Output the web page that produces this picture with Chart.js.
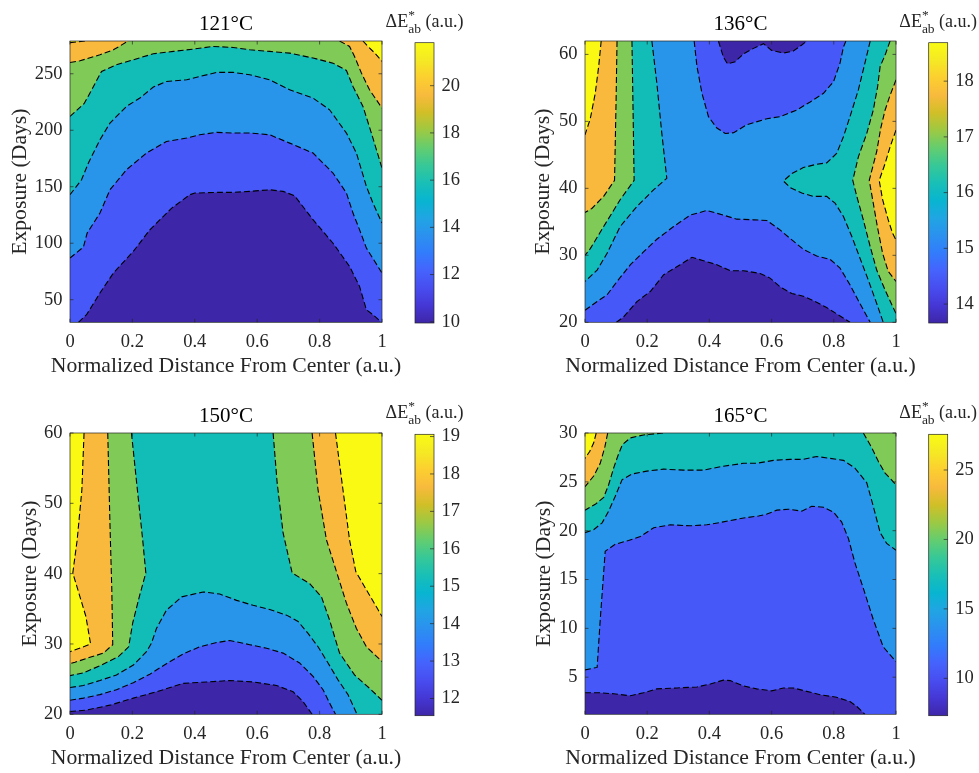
<!DOCTYPE html>
<html>
<head>
<meta charset="utf-8">
<script src="https://cdn.jsdelivr.net/npm/chart.js@4.4.1/dist/chart.umd.min.js"></script>
<style>
body { margin: 0; background: #fff; width: 979px; height: 773px; overflow: hidden; position: relative; }
canvas { position: absolute; }
</style>
</head>
<body>
<canvas id="p1" width="410" height="385" style="left:0;top:0"></canvas>
<canvas id="b1" width="110" height="345" style="left:375px;top:0"></canvas>
<canvas id="p2" width="425" height="385" style="left:500px;top:0"></canvas>
<canvas id="b2" width="90" height="345" style="left:889px;top:0"></canvas>
<canvas id="p3" width="410" height="385" style="left:0;top:392px"></canvas>
<canvas id="b3" width="110" height="345" style="left:375px;top:392px"></canvas>
<canvas id="p4" width="425" height="385" style="left:500px;top:392px"></canvas>
<canvas id="b4" width="90" height="345" style="left:889px;top:392px"></canvas>
<script>
// contour maps of colour change, one panel per temperature

var serif = "'Liberation Serif', 'Times New Roman', serif";
var ink = '#262626';

// fill colours for the 7 bands, low to high
var cDark = '#3E26A8';
var cBlue = '#4758F8';
var cLight = '#2894EA';
var cTeal = '#12BCB7';
var cGreen = '#80CA58';
var cOrange = '#F9B93C';
var cYellow = '#F9F914';

// colorbar gradient
var parula = ['#3E26A8', '#4537D5', '#484DF0', '#4563FD', '#327CFC', '#2B91EF', '#20A5E3', '#08B5D0',
    '#19BFB6', '#37C897', '#64CD6F', '#9DC943', '#D1BF27', '#F8BA3D', '#FCCF30', '#F5E924', '#F9FB15'];

var xTicks = [0, 0.2, 0.4, 0.6, 0.8, 1];
var xTitle = 'Normalized Distance From Center (a.u.)';
var yTitle = 'Exposure (Days)';
var cbLabel = ['\u0394E', '*', 'ab', ' (a.u.)'];

// ---- 121°C ----
var p1Title = '121\u00B0C';
var p1YRange = [30, 279];
var p1YTicks = [50, 100, 150, 200, 250];
var p1CRange = [9.95, 21.82];
var p1CTicks = [10, 12, 14, 16, 18, 20];
// contour lines as [x, y]
var p1L1 = [[0.027,30],[0.053,36.7],[0.096,55.9],[0.139,73.6],[0.203,92.8],[0.256,111.9],[0.326,131.1],[0.384,142.9],[0.4,144.4],[0.47,145],[0.523,145],[0.576,145.9],[0.64,147.3],[0.683,145.9],[0.72,142],[0.779,120.8],[0.843,100],[0.896,79.5],[0.928,61.8],[0.95,41.1],[0.971,36.7],[0.998,30]];
var p1L2 = [[0,86.9],[0.043,96.6],[0.055,109],[0.096,126.7],[0.128,147.3],[0.181,165],[0.245,179.8],[0.309,190.1],[0.374,193.1],[0.416,196],[0.47,198.1],[0.523,197.5],[0.576,197.5],[0.64,196],[0.704,188.6],[0.779,179.8],[0.843,162.1],[0.886,144.4],[0.907,126.7],[0.928,112],[0.95,95.7],[1,73.6]];
var p1L3 = [[0,142.9],[0.037,156.2],[0.059,171],[0.096,191.6],[0.128,206.3],[0.181,221.1],[0.224,228.5],[0.267,238.2],[0.309,243.2],[0.374,244.7],[0.416,247.6],[0.47,251.2],[0.523,251.2],[0.576,249.1],[0.64,244.7],[0.704,235.8],[0.779,228.5],[0.832,218.1],[0.886,197.5],[0.918,179.8],[0.95,150.3],[0.971,135.5],[1,117.8]];
var p1L4 = [[0,212.2],[0.045,223.5],[0.064,232.9],[0.101,252.1],[0.149,258],[0.203,262.4],[0.267,267.7],[0.331,269.8],[0.395,271.8],[0.459,274.2],[0.523,273.3],[0.576,271.2],[0.64,269.8],[0.704,268.3],[0.779,263.9],[0.843,259.4],[0.886,252.9],[0.907,238.8],[0.939,221.1],[0.966,197.5],[1,166.5]];
var p1L5a = [[0,260],[0.032,261.5],[0.096,266.8],[0.139,271.2],[0.187,279]];
var p1L5b = [[0.864,279],[0.896,274.2],[0.912,265.3],[0.934,250.6],[0.96,235.8],[1,219.6]];
var p1L6a = [[0,277.6],[0.048,279]];
var p1L6b = [[0.939,279],[0.955,274.2],[0.977,268.3],[1,261]];

// ---- 136°C ----
var p2Title = '136\u00B0C';
var p2YRange = [20, 62];
var p2YTicks = [20, 30, 40, 50, 60];
var p2CRange = [13.66, 18.69];
var p2CTicks = [14, 15, 16, 17, 18];
var p2L1top = [[0.429,62],[0.445,59.6],[0.458,58.6],[0.483,58.9],[0.51,60.1],[0.542,60.9],[0.574,61.6],[0.6,60.6],[0.638,60.2],[0.67,60.5],[0.697,61.4],[0.713,62]];
var p2L2top = [[0.351,62],[0.36,58.2],[0.376,54.2],[0.397,50.7],[0.424,49],[0.451,48.2],[0.478,48.3],[0.52,49.5],[0.585,50.4],[0.627,50.7],[0.681,51.7],[0.724,52.9],[0.767,54.2],[0.799,55.9],[0.82,58.7],[0.831,61.1],[0.839,62]];
var p2L1bot = [[0.101,20],[0.124,20.8],[0.167,23.1],[0.21,24.6],[0.253,27.1],[0.306,28.6],[0.344,29.7],[0.381,29.2],[0.424,28.6],[0.467,27.7],[0.51,27.7],[0.563,27.3],[0.595,26.6],[0.627,25.3],[0.665,24.3],[0.702,23.9],[0.74,23.1],[0.777,22.2],[0.815,21.1],[0.852,20]];
var p2L2bot = [[0,21.8],[0.039,23.1],[0.071,24.1],[0.103,26.1],[0.146,28.6],[0.188,30.5],[0.231,32.4],[0.285,34.3],[0.338,36],[0.392,36.7],[0.445,36],[0.488,35.4],[0.542,35.3],[0.585,35.2],[0.627,33.8],[0.66,32.5],[0.702,30.9],[0.745,29.9],[0.788,29.4],[0.82,28.1],[0.852,25.6],[0.884,22.8],[0.917,20]];
var p2L3left = [[0.215,62],[0.231,55.7],[0.247,48.2],[0.263,41.5],[0.221,39.8],[0.167,37.3],[0.113,34.3],[0.071,30.3],[0.039,27.8],[0,26.1]];
var p2L4left = [[0.151,62],[0.154,53.2],[0.158,41.2],[0.113,38.3],[0.06,34.3],[0.017,31],[0,30]];
var p2L5left = [[0.103,62],[0.1,53.2],[0.095,41.2],[0.06,38.8],[0.022,37],[0,36.4]];
var p2L6left = [[0.052,62],[0.044,58.2],[0.033,54.2],[0.017,50.4],[0,48]];
var p2L3right = [[0.917,62],[0.9,58.7],[0.879,54.7],[0.852,50.7],[0.831,47.7],[0.809,45.2],[0.777,43.8],[0.745,43.6],[0.702,43.1],[0.665,42.2],[0.638,41.1],[0.66,40.1],[0.697,39.3],[0.734,38.8],[0.777,38.8],[0.804,37.8],[0.831,35.8],[0.858,32.8],[0.884,29.6],[0.911,26.3],[0.938,22.8],[0.959,20]];
var p2L4right = [[0.981,62],[0.965,59.9],[0.949,58.2],[0.941,55.2],[0.927,51.7],[0.906,48.2],[0.879,44.7],[0.861,41.2],[0.874,38.8],[0.895,35.3],[0.917,31.3],[0.938,27.8],[0.965,24.8],[1,21.3]];
var p2L5right = [[1,56.2],[0.981,53.9],[0.965,51.7],[0.951,49],[0.938,45.5],[0.914,41.2],[0.925,38.3],[0.94,34.3],[0.957,30.3],[0.975,27.6],[1,26.1]];
var p2L6right = [[1,48.7],[0.981,46.2],[0.965,43.7],[0.946,41.2],[0.957,38.3],[0.975,35.3],[0.989,33.3],[1,32.3]];

// ---- 150°C ----
var p3Title = '150\u00B0C';
var p3YRange = [20, 60];
var p3YTicks = [20, 30, 40, 50, 60];
var p3CRange = [11.54, 19.06];
var p3CTicks = [12, 13, 14, 15, 16, 17, 18, 19];
var p3L1 = [[0,20.4],[0.053,20.6],[0.128,21.3],[0.203,22.3],[0.277,23.2],[0.363,24.4],[0.438,24.6],[0.512,24.8],[0.587,24.6],[0.662,24.1],[0.715,23.2],[0.747,21.8],[0.776,20]];
var p3L2 = [[0,22],[0.043,22.3],[0.096,22.8],[0.149,23.5],[0.203,24.5],[0.256,25.7],[0.309,27.2],[0.363,28.6],[0.416,29.6],[0.47,30.2],[0.512,30.5],[0.576,29.9],[0.63,29.4],[0.683,28.7],[0.736,27.3],[0.779,25.4],[0.811,23.5],[0.832,21.6],[0.851,20]];
var p3L3 = [[0,23.8],[0.043,24.1],[0.096,24.8],[0.149,25.6],[0.203,27],[0.245,28.9],[0.261,30.1],[0.277,32.2],[0.309,34.8],[0.358,36.7],[0.427,37.4],[0.48,37.1],[0.534,36.2],[0.587,35.5],[0.64,34.9],[0.694,34.1],[0.731,33.2],[0.763,31.5],[0.795,29.6],[0.827,27.3],[0.859,24.9],[0.891,22.8],[0.92,20]];
var p3L4left = [[0.197,60],[0.216,51.9],[0.233,44.8],[0.243,40.1],[0.222,36.7],[0.201,33],[0.188,29.6],[0.155,28.2],[0.096,26.9],[0.043,25.9],[0,25.5]];
var p3L5left = [[0.121,60],[0.128,47.2],[0.134,37.7],[0.137,29.9],[0.107,28.7],[0.064,28.1],[0.016,27.4],[0,27.2]];
var p3L6left = [[0.045,60],[0.038,51.9],[0.023,44.8],[0.009,40.1],[0.032,36.7],[0.051,33.9],[0.066,30],[0.037,29.5],[0,28.9]];
var p3L4right = [[0.651,60],[0.664,52.9],[0.683,45.8],[0.712,40.1],[0.768,38.6],[0.806,36.7],[0.832,33.4],[0.864,28.7],[0.912,25.6],[0.96,23.7],[1,22]];
var p3L5right = [[0.776,60],[0.795,51.9],[0.822,44.8],[0.859,39.6],[0.886,35.8],[0.918,32.2],[0.95,29.6],[1,27.5]];
var p3L6right = [[0.851,60],[0.875,51.9],[0.896,44.8],[0.916,40.3],[0.95,37.7],[0.982,35.3],[1,33.9]];

// ---- 165°C ----
var p4Title = '165\u00B0C';
var p4YRange = [1.2, 30];
var p4YTicks = [5, 10, 15, 20, 25, 30];
var p4CRange = [7.31, 27.57];
var p4CTicks = [10, 15, 20, 25];
var p4L1 = [[0,3.4],[0.049,3.4],[0.092,3.3],[0.146,3.1],[0.188,3.4],[0.231,3.8],[0.296,3.9],[0.36,4],[0.403,4.3],[0.445,4.7],[0.467,4.65],[0.51,4.1],[0.552,3.8],[0.6,3.6],[0.638,3.9],[0.67,3.9],[0.713,3.55],[0.756,3.2],[0.809,2.95],[0.852,2.5],[0.874,2],[0.9,1.2]];
var p4L2 = [[0,5.75],[0.039,6],[0.049,10.9],[0.065,17.9],[0.097,18.6],[0.14,19],[0.178,19.4],[0.221,20.3],[0.274,20.6],[0.338,20.5],[0.392,20.6],[0.445,20.9],[0.51,21.3],[0.558,21.5],[0.585,21.7],[0.617,22.1],[0.654,22.2],[0.697,22],[0.729,22.5],[0.767,22.4],[0.799,21.9],[0.825,20.9],[0.847,19.2],[0.868,16.7],[0.9,13.6],[0.927,10.9],[0.959,8.1],[1,6.6]];
var p4L3 = [[0,19.8],[0.028,20.1],[0.055,20.8],[0.076,22],[0.097,23.5],[0.119,25.2],[0.151,25.8],[0.199,26.1],[0.253,26.3],[0.317,26.2],[0.381,26.2],[0.445,26.6],[0.51,26.9],[0.552,26.9],[0.606,27.2],[0.66,27.3],[0.702,27.3],[0.745,27.6],[0.788,27.4],[0.831,27.2],[0.868,26.4],[0.906,24.9],[0.927,22.5],[0.949,19.8],[0.97,18.7],[1,18]];
var p4L4left = [[0.251,30],[0.188,29.8],[0.146,29.5],[0.12,28.8],[0.105,27.6],[0.092,26.4],[0.076,24.7],[0.06,23.4],[0.033,22.7],[0,22.1]];
var p4L4right = [[0.895,30],[0.922,28.5],[0.943,27.1],[0.965,25.9],[1,24.7]];
var p4L5 = [[0.073,30],[0.064,28.6],[0.049,26.9],[0.028,25.6],[0,24.5]];
var p4L6 = [[0.036,30],[0.028,29],[0.015,28.1],[0,27.4]];


function toXY(a) {
    return a.map(function (p) { return { x: p[0], y: p[1] }; });
}

// flat spur out to both side walls (zero area) so the filler's x clip spans the whole plot
function spur(poly) {
    var y0 = poly[0][1];
    return [[0, y0]].concat(poly, [poly[0], [1, y0]]);
}

function rect(r) {
    return [[0, r[0]], [0, r[1]], [1, r[1]], [1, r[0]]];
}

// each fill is painted over the ones before it
function p1Fills() {
    var y0 = p1YRange[0];
    return [
        [cYellow, rect(p1YRange)],
        [cOrange, [[0, y0]].concat(p1L6a, p1L6b, [[1, y0]])],
        [cGreen, [[0, y0]].concat(p1L5a, p1L5b, [[1, y0]])],
        [cTeal, [[0, y0]].concat(p1L4, [[1, y0]])],
        [cLight, [[0, y0]].concat(p1L3, [[1, y0]])],
        [cBlue, [[0, y0]].concat(p1L2, [[1, y0]])],
        [cDark, p1L1]
    ];
}

function p2Fills() {
    var y0 = p2YRange[0], y1 = p2YRange[1];
    return [
        [cLight, rect(p2YRange)],
        [cBlue, p2L2top],
        [cDark, p2L1top],
        [cBlue, p2L2bot.concat([[0, y0]])],
        [cDark, p2L1bot],
        [cTeal, p2L3left.concat([[0, y1]])],
        [cGreen, p2L4left.concat([[0, y1]])],
        [cOrange, p2L5left.concat([[0, y1]])],
        [cYellow, p2L6left.concat([[0, y1]])],
        [cTeal, p2L3right.concat([[1, y0], [1, y1]])],
        [cGreen, p2L4right.concat([[1, y1]])],
        [cOrange, p2L5right],
        [cYellow, p2L6right]
    ];
}

function p3Fills() {
    var y0 = p3YRange[0], y1 = p3YRange[1];
    return [
        [cTeal, rect(p3YRange)],
        [cGreen, p3L4left.concat([[0, y1]])],
        [cOrange, p3L5left.concat([[0, y1]])],
        [cYellow, p3L6left.concat([[0, y1]])],
        [cGreen, p3L4right.concat([[1, y1]])],
        [cOrange, p3L5right.concat([[1, y1]])],
        [cYellow, p3L6right.concat([[1, y1]])],
        [cLight, p3L3.concat([[0, y0]])],
        [cBlue, p3L2.concat([[0, y0]])],
        [cDark, p3L1.concat([[0, y0]])]
    ];
}

function p4Fills() {
    var y0 = p4YRange[0], y1 = p4YRange[1];
    return [
        [cLight, rect(p4YRange)],
        [cTeal, p4L3.concat([[1, y1], [0, y1]])],
        [cGreen, p4L4left.concat([[0, y1]])],
        [cGreen, p4L4right.concat([[1, y1]])],
        [cOrange, p4L5.concat([[0, y1]])],
        [cYellow, p4L6.concat([[0, y1]])],
        [cBlue, p4L2.concat([[1, y0], [0, y0]])],
        [cDark, p4L1.concat([[0, y0]])]
    ];
}

// box, inward ticks on all four sides, x axis title
var boxPlugin = {
    id: 'box',
    afterDatasetsDraw: function (chart) {
        var a = chart.chartArea, c = chart.ctx;
        var sx = chart.scales.x, sy = chart.scales.y;
        c.save();
        c.strokeStyle = ink;
        c.lineWidth = 0.7;
        c.beginPath();
        sx.ticks.forEach(function (t) {
            var px = sx.getPixelForValue(t.value);
            c.moveTo(px, a.bottom); c.lineTo(px, a.bottom - 3.5);
            c.moveTo(px, a.top); c.lineTo(px, a.top + 3.5);
        });
        sy.ticks.forEach(function (t) {
            var py = sy.getPixelForValue(t.value);
            c.moveTo(a.left, py); c.lineTo(a.left + 3.5, py);
            c.moveTo(a.right, py); c.lineTo(a.right - 3.5, py);
        });
        c.stroke();
        c.strokeRect(a.left, a.top, a.right - a.left, a.bottom - a.top);
        c.fillStyle = ink;
        c.font = '21.7px ' + serif;
        c.textAlign = 'center';
        c.textBaseline = 'middle';
        c.fillText(xTitle, (a.left + a.right) / 2, a.bottom + 44.5);
        c.restore();
    }
};

function makePanel(id, title, yRange, yTicks, fills, lines, lay) {
    var ds = [];
    lines.forEach(function (l) {
        ds.push({
            data: toXY(l), borderColor: '#000', borderWidth: 1.1, borderDash: [6, 3],
            pointRadius: 0, fill: false, order: 0
        });
    });
    fills.forEach(function (f, i) {
        ds.push({
            data: toXY(spur(f[1])), backgroundColor: f[0], borderColor: 'transparent', borderWidth: 0,
            borderDash: [2, 2], pointRadius: 0, fill: 'shape', order: 100 - i
        });
    });

    new Chart(document.getElementById(id), {
        type: 'line',
        data: { datasets: ds },
        options: {
            responsive: false,
            animation: false,
            events: [],
            layout: { padding: { left: 0, right: lay.rightPad, top: 0, bottom: 0 } },
            plugins: {
                legend: { display: false },
                tooltip: { enabled: false },
                title: {
                    display: true, text: title, color: '#000', fullSize: false,
                    font: { family: serif, size: 21, weight: 'normal' },
                    padding: { top: 11.6, bottom: 4.2 }
                }
            },
            scales: {
                x: {
                    type: 'linear', min: 0, max: 1,
                    afterBuildTicks: function (s) { s.ticks = xTicks.map(function (v) { return { value: v }; }); },
                    afterFit: function (s) { s.height = 62.7; },
                    grid: { display: false, drawTicks: false },
                    border: { display: false },
                    ticks: {
                        color: ink, padding: 8.3, autoSkip: false, maxRotation: 0,
                        font: { family: serif, size: 18.5 },
                        callback: function (v) { return String(v); }
                    }
                },
                y: {
                    type: 'linear', min: yRange[0], max: yRange[1],
                    afterBuildTicks: function (s) { s.ticks = yTicks.map(function (v) { return { value: v }; }); },
                    afterFit: function (s) { s.width = lay.yAxisW; },
                    grid: { display: false, drawTicks: false },
                    border: { display: false },
                    ticks: {
                        color: ink, padding: 7.5, autoSkip: false,
                        font: { family: serif, size: 18.5 },
                        callback: function (v) { return String(v); }
                    },
                    title: {
                        display: true, text: yTitle, color: ink,
                        font: { family: serif, size: 21.7 },
                        padding: { top: lay.yTitlePad, bottom: 0 }
                    }
                }
            }
        },
        plugins: [boxPlugin]
    });
}

// colorbar: box, ticks on the right edge, and the ΔE*ab label on top
var cbarPlugin = {
    id: 'cbar',
    afterDraw: function (chart) {
        var a = chart.chartArea, c = chart.ctx, sy = chart.scales.y;
        c.save();
        c.strokeStyle = ink;
        c.lineWidth = 0.7;
        c.beginPath();
        sy.ticks.forEach(function (t) {
            var py = sy.getPixelForValue(t.value);
            c.moveTo(a.right, py); c.lineTo(a.right - 4, py);
        });
        c.stroke();
        c.strokeRect(a.left, a.top, a.right - a.left, a.bottom - a.top);

        var big = '18px ' + serif, small = '13.5px ' + serif;
        c.fillStyle = ink;
        c.textAlign = 'left';
        c.textBaseline = 'alphabetic';
        c.font = big;
        var w1 = c.measureText(cbLabel[0]).width;
        var w4 = c.measureText(cbLabel[3]).width;
        c.font = small;
        var w2 = Math.max(c.measureText(cbLabel[1]).width, c.measureText(cbLabel[2]).width);
        var x0 = (a.left + a.right) / 2 - (w1 + w2 + w4) / 2;
        var base = a.top - 16;
        c.font = big;
        c.fillText(cbLabel[0], x0, base);
        c.font = small;
        c.fillText(cbLabel[1], x0 + w1, base - 8);
        c.fillText(cbLabel[2], x0 + w1, base + 6);
        c.font = big;
        c.fillText(cbLabel[3], x0 + w1 + w2, base);
        c.restore();
    }
};

function makeBar(id, range, ticks, lay) {
    new Chart(document.getElementById(id), {
        type: 'bar',
        data: {
            labels: [''],
            datasets: [{
                data: [range],
                borderWidth: 0,
                barPercentage: 1,
                categoryPercentage: 1,
                backgroundColor: function (ctx) {
                    var a = ctx.chart.chartArea;
                    if (!a) return 'transparent';
                    var g = ctx.chart.ctx.createLinearGradient(0, a.bottom, 0, a.top);
                    parula.forEach(function (col, i) { g.addColorStop(i / (parula.length - 1), col); });
                    return g;
                }
            }]
        },
        options: {
            responsive: false,
            animation: false,
            events: [],
            layout: { padding: { left: lay.left, right: 0, top: lay.top, bottom: lay.bottom } },
            plugins: { legend: { display: false }, tooltip: { enabled: false } },
            scales: {
                x: { display: false },
                y: {
                    position: 'right', min: range[0], max: range[1],
                    afterBuildTicks: function (s) { s.ticks = ticks.map(function (v) { return { value: v }; }); },
                    afterFit: function (s) { s.width = lay.axisW; },
                    grid: { display: false, drawTicks: false },
                    border: { display: false },
                    ticks: {
                        color: ink, padding: 7.5, autoSkip: false,
                        font: { family: serif, size: 18.5 },
                        callback: function (v) { return String(v); }
                    }
                }
            }
        },
        plugins: [cbarPlugin]
    });
}

var p1Lines = [p1L1, p1L2, p1L3, p1L4, p1L5a, p1L5b, p1L6a, p1L6b];
var p2Lines = [p2L1top, p2L2top, p2L1bot, p2L2bot, p2L3left, p2L4left, p2L5left, p2L6left, p2L3right, p2L4right, p2L5right, p2L6right];
var p3Lines = [p3L1, p3L2, p3L3, p3L4left, p3L5left, p3L6left, p3L4right, p3L5right, p3L6right];
var p4Lines = [p4L1, p4L2, p4L3, p4L4left, p4L4right, p4L5, p4L6];

makePanel('p1', p1Title, p1YRange, p1YTicks, p1Fills(), p1Lines, { yAxisW: 70, rightPad: 28, yTitlePad: 7.2 });
makePanel('p2', p2Title, p2YRange, p2YTicks, p2Fills(), p2Lines, { yAxisW: 85, rightPad: 29, yTitlePad: 30.5 });
makePanel('p3', p3Title, p3YRange, p3YTicks, p3Fills(), p3Lines, { yAxisW: 70, rightPad: 28, yTitlePad: 17.2 });
makePanel('p4', p4Title, p4YRange, p4YTicks, p4Fills(), p4Lines, { yAxisW: 85, rightPad: 29, yTitlePad: 31.2 });

makeBar('b1', p1CRange, p1CTicks, { left: 40, top: 42.7, bottom: 22, axisW: 51 });
makeBar('b2', p2CRange, p2CTicks, { left: 39.7, top: 42.7, bottom: 22, axisW: 31.3 });
makeBar('b3', p3CRange, p3CTicks, { left: 40, top: 42.3, bottom: 21.3, axisW: 51 });
makeBar('b4', p4CRange, p4CTicks, { left: 39.7, top: 42.3, bottom: 21.3, axisW: 31.3 });
</script>
</body>
</html>
